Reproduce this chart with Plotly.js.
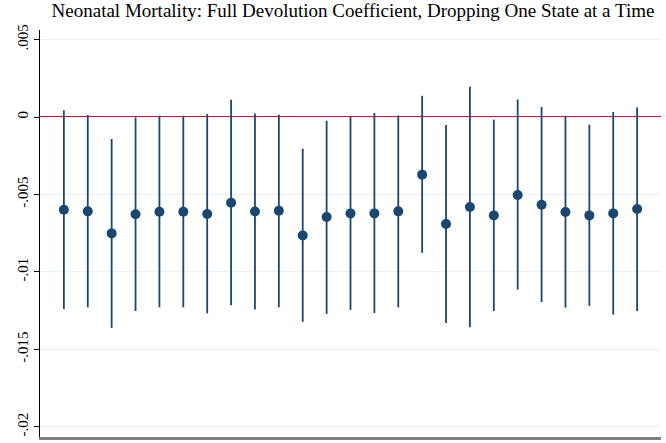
<!DOCTYPE html>
<html>
<head>
<meta charset="utf-8">
<script src="https://cdn.plot.ly/plotly-3.0.1.min.js"></script>
<style>html,body{margin:0;padding:0;background:#fff;}#chart{width:666px;height:443px;}</style>
</head>
<body>
<div id="chart"></div>
<script>
// Dropped state index (1..25)
const states = [1,2,3,4,5,6,7,8,9,10,11,12,13,14,15,16,17,18,19,20,21,22,23,24,25];
// Point estimates
const coef = [-0.00598,-0.00609,-0.00751,-0.00628,-0.00611,-0.00611,-0.00626,-0.00553,-0.00610,-0.00605,
              -0.00764,-0.00645,-0.00622,-0.00622,-0.00609,-0.00372,-0.00690,-0.00581,-0.00635,-0.00503,
              -0.00566,-0.00613,-0.00635,-0.00622,-0.00594];
// Upper confidence bounds
const ciUpper = [0.00043,0.00013,-0.00142,-0.00003,0.00008,0.00008,0.00019,0.00112,0.00023,0.00015,
                 -0.00205,-0.00024,0.00000,0.00026,0.00010,0.00137,-0.00052,0.00195,-0.00017,0.00112,
                 0.00065,0.00008,-0.00050,0.00032,0.00062];
// Lower confidence bounds
const ciLower = [-0.01239,-0.01228,-0.01361,-0.01252,-0.01228,-0.01228,-0.01267,-0.01215,-0.01243,-0.01228,
                 -0.01321,-0.01271,-0.01245,-0.01265,-0.01228,-0.00877,-0.01329,-0.01357,-0.01252,-0.01114,
                 -0.01194,-0.01230,-0.01219,-0.01275,-0.01252];
const yTickVals = [0.005, 0, -0.005, -0.01, -0.015, -0.02];
const yTickText = ['.005', '0', '-.005', '-.01', '-.015', '-.02'];
const titleText = 'Neonatal Mortality: Full Devolution Coefficient, Dropping One State at a Time';

const navy = '#1a476f';
const trace = {
  type: 'scatter', mode: 'markers', x: states, y: coef,
  marker: {color: navy, size: 10},
  error_y: {
    type: 'data', symmetric: false,
    array: ciUpper.map((u, i) => u - coef[i]),
    arrayminus: ciLower.map((l, i) => coef[i] - l),
    color: navy, thickness: 1.8, width: 0
  },
  hoverinfo: 'x+y', showlegend: false
};
const layout = {
  width: 666, height: 443,
  margin: {l: 40, r: 5, t: 30, b: 6},
  paper_bgcolor: '#fff', plot_bgcolor: '#fff',
  font: {family: 'Liberation Serif, Times New Roman, serif', color: '#000'},
  title: {text: titleText, font: {size: 19, color: '#000'}, x: 0.53, xanchor: 'center', y: 0.992, yanchor: 'top'},
  xaxis: {range: [0, 26], showgrid: false, zeroline: false, showticklabels: false, ticks: '',
          showline: true, linecolor: '#808080', linewidth: 2.5},
  yaxis: {range: [-0.02065, 0.005614], tickvals: yTickVals, ticktext: yTickText, tickangle: -90,
          tickfont: {size: 15}, ticks: 'outside', ticklen: 5, tickcolor: '#000',
          showgrid: true, gridcolor: '#eaf2f3', gridwidth: 1, zeroline: false,
          showline: true, linecolor: '#000', linewidth: 1},
  shapes: [{type: 'line', xref: 'paper', x0: 0, x1: 1, yref: 'y', y0: 0, y1: 0,
            line: {color: '#c0143c', width: 2}, layer: 'below'}]
};
Plotly.newPlot('chart', [trace], layout, {displayModeBar: false, staticPlot: true});
</script>
</body>
</html>
